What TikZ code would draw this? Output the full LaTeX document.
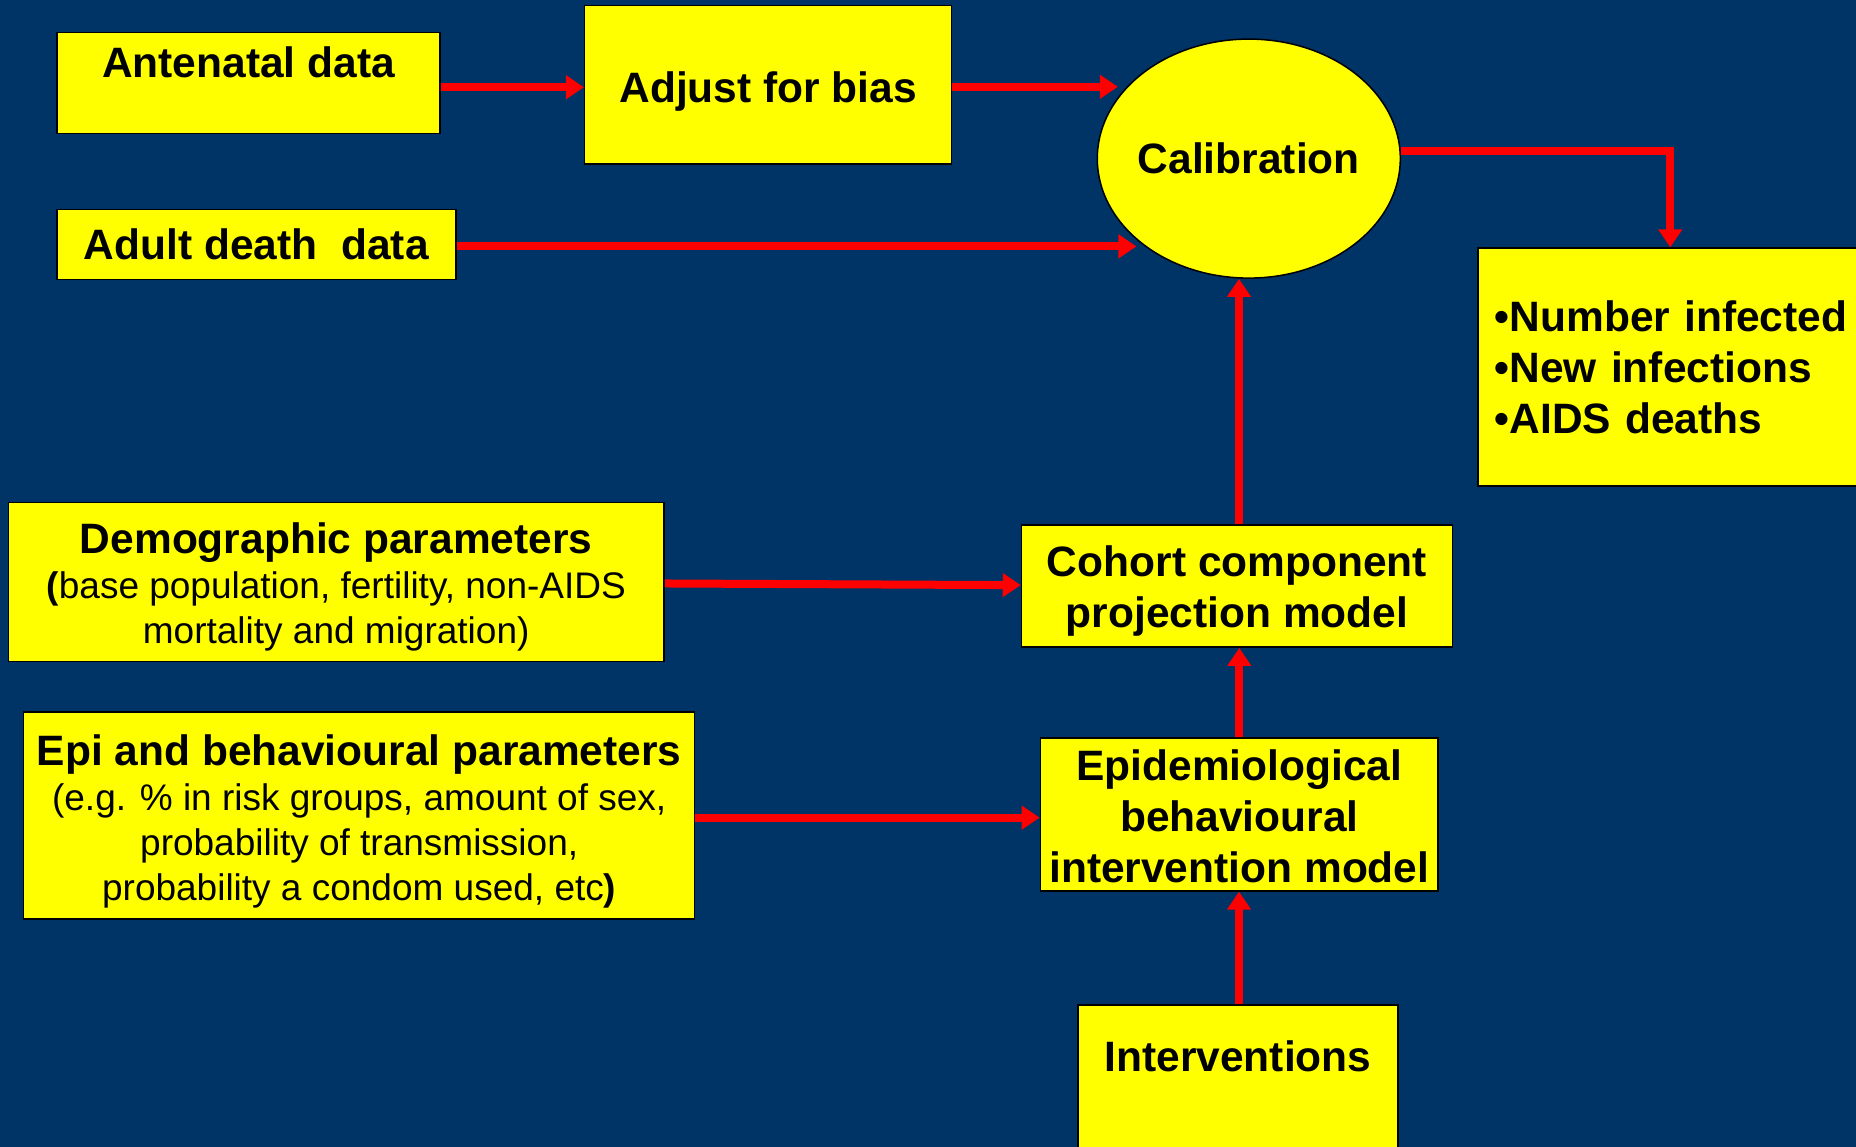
\documentclass[tikz,border=0pt]{standalone}
\usepackage{fontspec}
\setmainfont{Liberation Sans}
\usetikzlibrary{arrows.meta,shapes.geometric}
\definecolor{bgblue}{HTML}{003366}
\definecolor{boxyellow}{HTML}{FFFF00}
\definecolor{arrowred}{HTML}{FF0000}
\tikzset{
  box/.style={draw=black, line width=1.5pt, fill=boxyellow, inner sep=0pt, align=center,
    font=\bfseries\fontsize{42.5}{51}\selectfont},
  parbox/.style={box, font=\fontsize{37}{45}\selectfont},
  arr/.style={draw=arrowred, line width=8pt, -{Triangle[length=18pt,width=23pt]}},
}
\newcommand{\headline}[1]{{\bfseries\fontsize{42.5}{47}\selectfont #1}}
\begin{document}
\begin{tikzpicture}[x=1pt, y=-1pt]
	\fill[bgblue] (0,0) rectangle (1856,1147);
	\useasboundingbox (0,0) rectangle (1856,1147);
	% data and calibration
	\node[box, anchor=north, minimum width=383pt, text height=44.7pt, text depth=56.3pt] (ante) at (248.5,32) {Antenatal data};
	\node[box, anchor=north, minimum width=367pt, text height=96.9pt, text depth=61.8pt] (adjust) at (768.2,4.7) {Adjust for bias};
	\node[box, minimum width=399pt, minimum height=70pt] (adult) at (256.3,244.4) {Adult death~~data};
	\node[box, ellipse, minimum width=303pt, minimum height=239pt] (calib) at (1248.8,158.6) {\makebox[0pt]{Calibration}};
	\node[box, anchor=north west, align=left, text width=367pt, inner xsep=17pt, minimum height=238pt] (out) at (1477,247.4) {•Number infected\\•New infections\\•AIDS deaths};
	% parameters and models
	\node[parbox, anchor=north, minimum width=655.7pt, text height=141pt, text depth=17.6pt] (demog) at (336.2,501.9) {\headline{Demographic parameters}\\\textbf{(}base population, fertility, non-AIDS\\mortality and migration)};
	\node[box, anchor=north, minimum width=431pt, text height=102.8pt, text depth=19.2pt] (cohort) at (1237,524.4) {Cohort component\\projection model};
	\node[parbox, anchor=north, minimum width=671pt, text height=188.4pt, text depth=18.6pt] (epipar) at (359.2,711.4) {\headline{Epi and behavioural parameters}\\(e.g. \% in risk groups, amount of sex,\\probability of transmission,\\probability a condom used, etc\textbf{)}};
	\node[box, anchor=north, minimum width=397.7pt, text height=144.3pt, text depth=8.4pt] (epimod) at (1239.3,737.4) {Epidemiological\\behavioural\\intervention model};
	\node[box, anchor=north, minimum width=320pt, text height=67pt, text depth=130pt] (interv) at (1238,1004) {Interventions};
	% connectors
	\draw[arr] ([yshift=-4pt]ante.east) -- ([yshift=-4pt]ante.east -| adjust.west);
	\draw[arr, shorten >=8pt] ([yshift=-2pt]adjust.east) -- ([yshift=-2pt]adjust.east -| calib.150);
	\draw[arr, shorten >=8pt] ([yshift=-2pt]adult.east) -- ([yshift=-2pt]adult.east -| calib.220);
	\draw[arr] (calib.3) -| ([xshift=-8pt]out.north);
	\draw[arr] ([xshift=2pt]cohort.north) -- ([xshift=2pt]cohort.north |- calib.south);
	\draw[arr] (demog) -- (cohort);
	\draw[arr] ([yshift=-2pt]epipar.east) -- ([yshift=-2pt]epipar.east -| epimod.west);
	\draw[arr] (epimod.north) -- (epimod.north |- cohort.south);
	\draw[arr] ([xshift=1pt]interv.north) -- ([xshift=1pt]interv.north |- epimod.south);
\end{tikzpicture}
\end{document}
